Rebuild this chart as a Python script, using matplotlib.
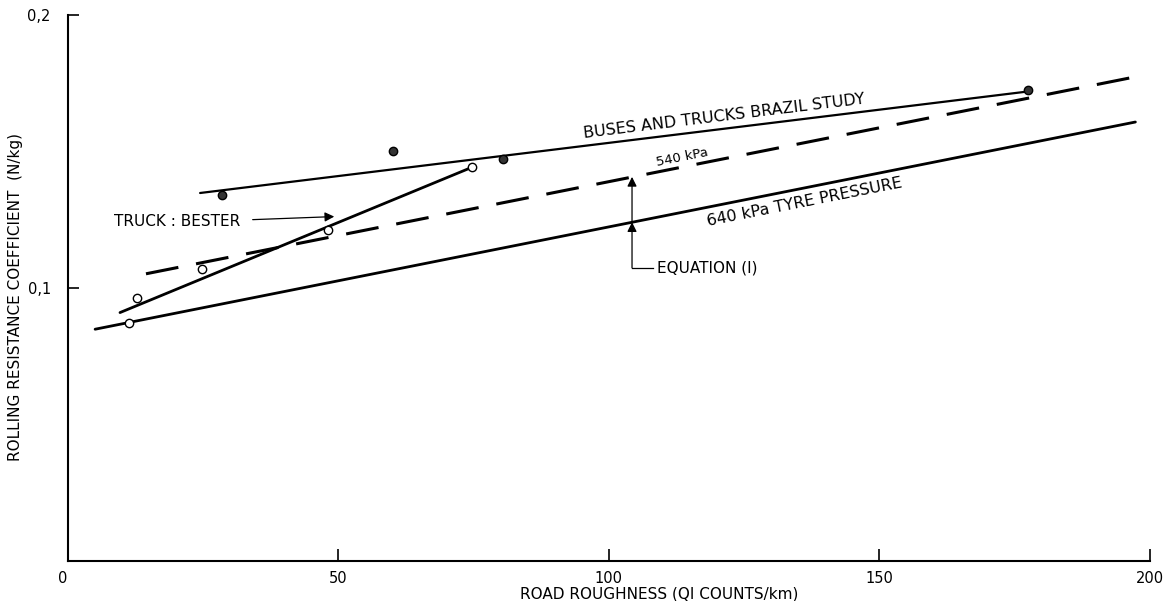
import numpy as np
import matplotlib
matplotlib.use('Agg')
import matplotlib.pyplot as plt

# values
x640 = [5.1, 197.3]
y640 = [0.0849, 0.1608]
x540 = [14.5, 198.2]
y540 = [0.1052, 0.1777]
xBester = [9.7, 74.7]
yBester = [0.0910, 0.1442]
xBrazil = [24.5, 177.5]
yBrazil = [0.1348, 0.1720]
xOpen = [11.4, 12.9, 24.9, 48.1, 74.7]
yOpen = [0.0870, 0.0964, 0.1068, 0.1211, 0.1442]
xFilled = [28.5, 60.2, 80.5, 177.5]
yFilled = [0.1342, 0.1503, 0.1471, 0.1726]
xTicks = [0, 50, 100, 150, 200]
xTickLabels = ['0', '50', '100', '150', '200']
yTicks = [0.1, 0.2]
yTickLabels = ['0,1', '0,2']
xEquation = 104.3

fig = plt.figure(figsize=(11.68, 6.01), dpi=100)
ax = fig.add_axes([67.5 / 1168, 40 / 601, 1082.5 / 1168, 546 / 601])
ax.set_xlim(0, 200)
ax.set_ylim(0, 0.2)

ax.plot(x640, y640, color='black', lw=2.0, solid_capstyle='round')
ax.plot(x540, y540, color='black', lw=2.2, dashes=(10.8, 5.9))
ax.plot(xBester, yBester, color='black', lw=2.0, solid_capstyle='round')
ax.plot(xBrazil, yBrazil, color='black', lw=1.6, solid_capstyle='round')
ax.plot(xOpen, yOpen, 'o', ms=6, mfc='white', mec='black', mew=1.0, zorder=5)
ax.plot(xFilled, yFilled, 'o', ms=6, mfc='#333333', mec='black', mew=1.0, zorder=5)


def angle(xs, ys):
    p = ax.transData.transform(np.column_stack([xs, ys]))
    return np.degrees(np.arctan2(p[1, 1] - p[0, 1], p[1, 0] - p[0, 0]))


ax.text(121.3, 0.1630, 'BUSES AND TRUCKS BRAZIL STUDY', fontsize=11.5,
        rotation=angle(xBrazil, yBrazil), ha='center', va='center', rotation_mode='anchor')
ax.text(113.6, 0.1480, '540 kPa', fontsize=9.5,
        rotation=angle(x540, y540), ha='center', va='center', rotation_mode='anchor')
ax.text(136.1, 0.1316, '640 kPa TYRE PRESSURE', fontsize=11.5,
        rotation=angle(x640, y640), ha='center', va='center', rotation_mode='anchor')

# truck : bester pointer
ax.text(31.9, 0.1245, 'TRUCK : BESTER', fontsize=11, ha='right', va='center')
ax.annotate('', xy=(49.8, 0.1262), xytext=(33.7, 0.1250),
            arrowprops=dict(arrowstyle='-|>', color='black', lw=0.9, mutation_scale=14))

# equation (1) pointer
ax.annotate('', xy=(xEquation, 0.1407), xytext=(xEquation, 0.1241),
            arrowprops=dict(arrowstyle='-|>', color='black', lw=0.9, mutation_scale=14,
                            shrinkA=0, shrinkB=0))
ax.annotate('', xy=(xEquation, 0.1241), xytext=(xEquation, 0.1074),
            arrowprops=dict(arrowstyle='-|>', color='black', lw=0.9, mutation_scale=14,
                            shrinkA=0, shrinkB=0))
ax.plot([xEquation, xEquation + 3.9], [0.1074, 0.1074], color='black', lw=0.9)
ax.text(xEquation + 4.7, 0.1074, 'EQUATION (I)', fontsize=11, ha='left', va='center')

for s in ['top', 'right']:
    ax.spines[s].set_visible(False)
for s in ['left', 'bottom']:
    ax.spines[s].set_linewidth(1.5)

ax.set_xticks(xTicks)
ax.set_xticklabels(xTickLabels, fontsize=10.5)
ax.set_yticks(yTicks)
ax.set_yticklabels(yTickLabels, fontsize=10.5)
ax.tick_params(axis='x', direction='in', length=9, width=1.2, pad=7)
ax.tick_params(axis='y', direction='in', length=8, width=1.2, pad=12)
ax.get_xticklabels()[0].set_horizontalalignment('right')

ax.set_xlabel('ROAD ROUGHNESS (QI COUNTS/km)', fontsize=11)
ax.xaxis.set_label_coords(0.547, -0.046)
ax.set_ylabel('ROLLING RESISTANCE COEFFICIENT  (N/kg)', fontsize=11)
ax.yaxis.set_label_coords(-0.041, 0.4835)

fig.savefig('out.png', dpi=100)
